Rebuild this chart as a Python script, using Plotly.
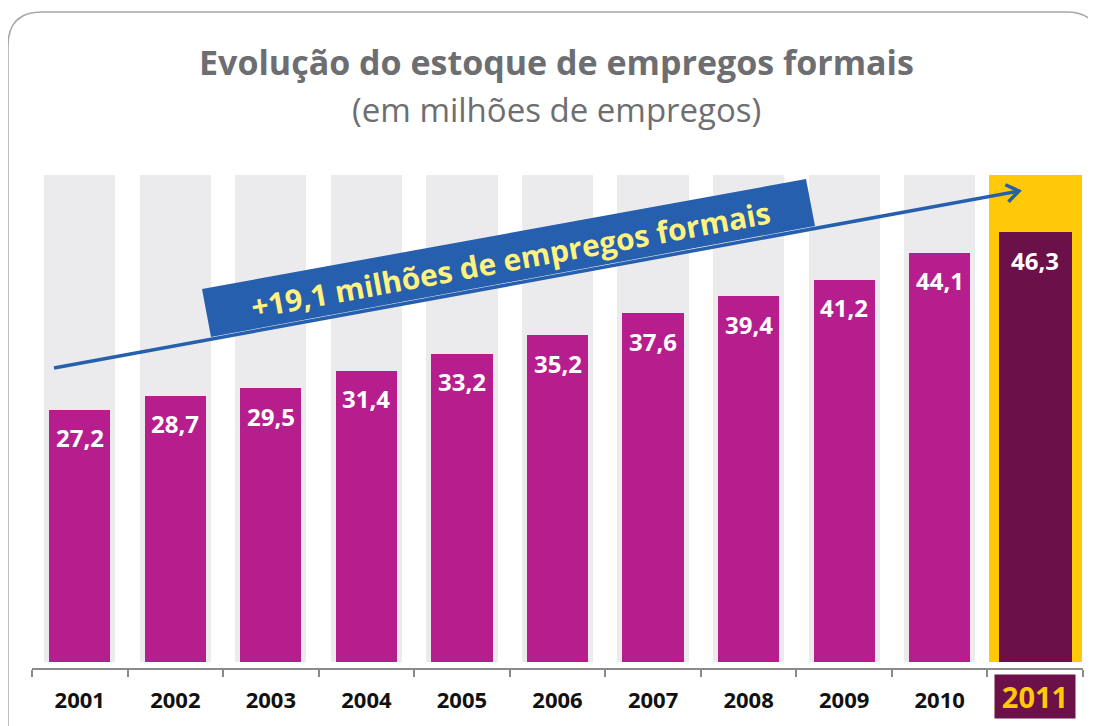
import math
import plotly.graph_objects as go

# ---- data ----
years = ["2001", "2002", "2003", "2004", "2005", "2006", "2007", "2008", "2009", "2010", "2011"]
empregos = [27.2, 28.7, 29.5, 31.4, 33.2, 35.2, 37.6, 39.4, 41.2, 44.1, 46.3]
title_text = "Evolução do estoque de empregos formais"
subtitle_text = "(em milhões de empregos)"
callout_text = "+19,1 milhões de empregos formais"

# ---- style ----
W, H = 1096, 726
OFF = 8  # page body margin offset
PL, PR, PT, PB = 32, 1083, 140, 668  # plot area in page pixels
ML, MT = PL - OFF, PT - OFF
MR, MB = W - (PR - OFF), H - (PB - OFF)
PW, PH = PR - PL, PB - PT
BG_TOP = 52.5
Y_RANGE = [-0.6466, 56.25]
FONT = "Open Sans"
MAGENTA = "#B51E8C"
DARK = "#6B1048"
YELLOW = "#FFC90A"
GRAY_COL = "#EBEBED"
BLUE = "#255FAD"
TEXT_YEL = "#FFF27F"
TITLE_GRAY = "#6D6E71"


def px(x):
    return (x - PL) / PW


def py(y):
    return (PB - y) / PH


n = len(years)
xpos = list(range(n))
bar_colors = [MAGENTA] * (n - 1) + [DARK]
bar_widths = [0.64] * (n - 1) + [0.765]
bg_colors = [GRAY_COL] * (n - 1) + [YELLOW]
bg_widths = [0.745] * (n - 1) + [0.975]

fig = go.Figure()
fig.add_trace(go.Bar(x=xpos, y=[BG_TOP] * n, width=bg_widths,
                     marker=dict(color=bg_colors, line=dict(width=0)),
                     hoverinfo="skip", showlegend=False))
fig.add_trace(go.Bar(x=xpos, y=empregos, width=bar_widths,
                     marker=dict(color=bar_colors, line=dict(width=0)),
                     customdata=years, hovertemplate="%{customdata}: %{y}<extra></extra>",
                     showlegend=False))

annotations = []
for i, v in zip(xpos, empregos):
    annotations.append(dict(x=i, y=v, xref="x", yref="y", yshift=-28,
                            text=f"{v:.1f}".replace(".", ","), showarrow=False,
                            font=dict(family=FONT, size=24, color="white", weight="bold")))

# title
annotations.append(dict(x=px(556), y=py(62), xref="paper", yref="paper", text=title_text,
                        showarrow=False, xanchor="center", yanchor="middle",
                        font=dict(family=FONT, size=34, color=TITLE_GRAY, weight="bold")))
annotations.append(dict(x=px(556), y=py(109), xref="paper", yref="paper", text=subtitle_text,
                        showarrow=False, xanchor="center", yanchor="middle",
                        font=dict(family=FONT, size=33, color=TITLE_GRAY)))

# 2011 highlighted tick label
annotations.append(dict(x=xpos[-1], y=py(696.5), xref="x", yref="paper", text=years[-1],
                        showarrow=False, xanchor="center", yanchor="middle",
                        width=80, height=43, bgcolor=DARK, borderpad=0,
                        font=dict(family=FONT, size=29, color=YELLOW, weight="bold")))

# callout text
angle = math.degrees(math.atan2(337 - 226, 815 - 211))
annotations.append(dict(x=px(510), y=py(259), xref="paper", yref="paper", text=callout_text,
                        showarrow=False, xanchor="center", yanchor="middle", textangle=-angle,
                        font=dict(family=FONT, size=30, color=TEXT_YEL, weight="bold")))

shapes = []
# rounded border
r = 34
bx0, by0, bx1, by1 = 8, 12, 1100, 760
path = (f"M {px(bx0)},{py(by1)} L {px(bx0)},{py(by0 + r)} "
        f"Q {px(bx0)},{py(by0)} {px(bx0 + r)},{py(by0)} "
        f"L {px(bx1 - r)},{py(by0)} Q {px(bx1)},{py(by0)} {px(bx1)},{py(by0 + r)} "
        f"L {px(bx1)},{py(by1)}")
shapes.append(dict(type="path", xref="paper", yref="paper", path=path,
                   line=dict(color="#A8A8A8", width=1.5), layer="below"))

# callout box
pts = [(202, 289), (806, 179), (815, 226), (211, 337)]
bpath = "M " + " L ".join(f"{px(a)},{py(b)}" for a, b in pts) + " Z"
shapes.append(dict(type="path", xref="paper", yref="paper", path=bpath,
                   fillcolor=BLUE, line=dict(width=0), layer="above"))

# arrow line
sx, sy, ex, ey = 54, 368, 1019, 191
shapes.append(dict(type="line", xref="paper", yref="paper", x0=px(sx), y0=py(sy), x1=px(ex), y1=py(ey),
                   line=dict(color=BLUE, width=3.5), layer="above"))
L = math.hypot(ex - sx, ey - sy)
ux, uy = (ex - sx) / L, (ey - sy) / L
arm = 15
a = math.radians(35)
cpts = []
for s in (1, -1):
    bxv, byv = -ux, -uy
    rx = bxv * math.cos(s * a) - byv * math.sin(s * a)
    ry = bxv * math.sin(s * a) + byv * math.cos(s * a)
    cpts.append((ex + arm * rx, ey + arm * ry))
cpath = (f"M {px(cpts[0][0])},{py(cpts[0][1])} L {px(ex)},{py(ey)} "
         f"L {px(cpts[1][0])},{py(cpts[1][1])}")
shapes.append(dict(type="path", xref="paper", yref="paper", path=cpath,
                   line=dict(color=BLUE, width=3.5), layer="above"))

fig.update_layout(
    width=W, height=H, margin=dict(l=ML, r=MR, t=MT, b=MB, pad=0),
    paper_bgcolor="white", plot_bgcolor="white",
    barmode="overlay", bargap=0,
    annotations=annotations, shapes=shapes,
    xaxis=dict(range=[-0.5, n - 0.5], showline=True, linecolor="#8A8A8A", linewidth=2,
               tickmode="array", tickvals=xpos[:-1], ticktext=years[:-1], ticks="",
               ticklabelstandoff=12,
               tickfont=dict(family=FONT, size=22, color="#111111", weight="bold"),
               minor=dict(tickmode="array", tickvals=[i - 0.5 for i in range(n + 1)],
                          ticks="outside", ticklen=7, tickwidth=2, tickcolor="#8A8A8A"),
               showgrid=False, zeroline=False, fixedrange=True),
    yaxis=dict(range=Y_RANGE, visible=False, showgrid=False, zeroline=False, fixedrange=True),
    showlegend=False,
)

fig.write_html("out.html")
